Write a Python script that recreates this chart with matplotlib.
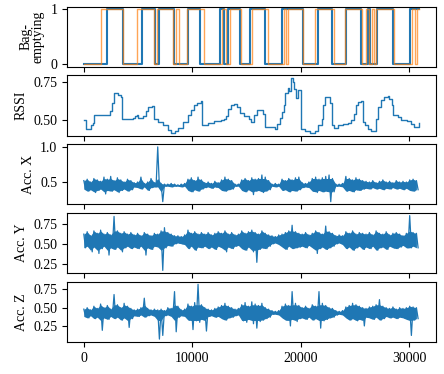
import numpy as np
import matplotlib
matplotlib.use('Agg')
import matplotlib.pyplot as plt

plt.rcParams['font.family'] = 'serif'
plt.rcParams['font.serif'] = ['Liberation Serif', 'DejaVu Serif']
plt.rcParams['font.size'] = 10

# bag-emptying label: switch times, level alternates 0/1 starting at 0
true_times = [0, 2100, 3600, 5380, 6550, 6970, 8300, 9620, 10750, 12570, 12950,
              13300, 14450, 15370, 16740, 18260, 20180, 21610, 22920, 24200,
              25570, 26180, 26450, 27030, 28520, 30070]
pred_times = [0, 1550, 3590, 4900, 6480, 6790, 8190, 8460, 8770, 9560, 11110,
              12790, 13150, 13450, 14500, 15530, 16960, 18470, 18650, 18870,
              20250, 21300, 23040, 24140, 25650, 26000, 26300, 26600, 26790,
              26950, 28650, 30290, 30590, 30740]
end_time = 30950

# RSSI (normalised)
rssi_t = [0, 213, 457, 700, 822, 913, 2283, 2435, 2587, 2740, 3044, 3196, 3409,
          3561, 4566, 4718, 4870, 5022, 5175, 5479, 5784, 5936, 6301, 6453,
          6849, 7306, 7762, 8067, 8371, 8675, 9132, 9589, 9893, 10198, 10441,
          10806, 10867, 11111, 11415, 12024, 12633, 12937, 13089, 13302, 13546,
          13850, 14155, 14368, 14763, 15220, 15450, 15707, 16011, 16316, 16529,
          16712, 17381, 17686, 17838, 18081, 18294, 18446, 18599, 18812, 18964,
          19116, 19268, 19360, 19573, 19755, 19908, 20060, 20425, 20882, 21339,
          21643, 21947, 22099, 22251, 22556, 22708, 22860, 23104, 23469, 23926,
          24382, 24687, 24930, 25143, 25296, 25539, 25752, 25965, 26209, 26513,
          26818, 26970, 27183, 27426, 27731, 28035, 28187, 28400, 28553, 28949,
          29253, 29862, 30166, 30470, 30775, 30927]
rssi_v = [0.498, 0.438, 0.44, 0.465, 0.478, 0.531, 0.53, 0.558, 0.608, 0.674,
          0.674, 0.664, 0.652, 0.509, 0.51, 0.525, 0.535, 0.515, 0.51, 0.525,
          0.558, 0.586, 0.59, 0.509, 0.487, 0.469, 0.432, 0.414, 0.425, 0.447,
          0.487, 0.531, 0.564, 0.601, 0.608, 0.624, 0.465, 0.468, 0.482, 0.493,
          0.50, 0.505, 0.527, 0.571, 0.597, 0.602, 0.586, 0.542, 0.527, 0.509,
          0.487, 0.535, 0.564, 0.567, 0.54, 0.453, 0.453, 0.44, 0.475, 0.51,
          0.553, 0.597, 0.674, 0.708, 0.69, 0.774, 0.75, 0.70, 0.646, 0.697,
          0.697, 0.443, 0.426, 0.416, 0.43, 0.465, 0.509, 0.597, 0.652, 0.652,
          0.61, 0.465, 0.447, 0.465, 0.47, 0.48, 0.498, 0.54, 0.597, 0.619,
          0.622, 0.487, 0.465, 0.44, 0.426, 0.43, 0.509, 0.586, 0.631, 0.652,
          0.658, 0.64, 0.597, 0.535, 0.52, 0.498, 0.49, 0.475, 0.453, 0.456,
          0.48]

# accelerometer: upper / lower swing of each 310-sample block
acc_step = 310
accx_hi = [0.52, 0.54, 0.50, 0.55, 0.53, 0.51, 0.57, 0.54, 0.58, 0.52, 0.56, 0.53, 0.50, 0.54, 0.52,
           0.49, 0.50, 0.57, 0.48, 0.50, 0.55, 0.49,
           1.00,
           0.48, 0.47, 0.47, 0.48, 0.47, 0.46, 0.47, 0.48,
           0.54, 0.56, 0.52, 0.57, 0.53,
           0.49, 0.50, 0.48, 0.51, 0.49,
           0.53, 0.57, 0.54, 0.52,
           0.47, 0.47,
           0.53, 0.55, 0.52, 0.56, 0.54, 0.55, 0.60, 0.57, 0.52,
           0.47, 0.48, 0.47,
           0.54, 0.52, 0.55, 0.53, 0.56, 0.57,
           0.49, 0.48, 0.50,
           0.55, 0.57, 0.54, 0.56, 0.58, 0.60, 0.55,
           0.47, 0.47, 0.48,
           0.58, 0.55, 0.53, 0.56, 0.54, 0.52,
           0.51, 0.50, 0.52, 0.49, 0.51, 0.53, 0.50, 0.51, 0.49, 0.52, 0.50, 0.51, 0.50,
           0.53, 0.54, 0.52]
accx_lo = [0.40, 0.37, 0.39, 0.35, 0.38, 0.40, 0.33, 0.38, 0.37, 0.39, 0.35, 0.38, 0.40, 0.37, 0.39,
           0.43, 0.42, 0.40, 0.43, 0.38, 0.42, 0.43,
           0.43,
           0.22, 0.44, 0.44, 0.43, 0.44, 0.44, 0.43, 0.44,
           0.38, 0.36, 0.39, 0.37, 0.40,
           0.42, 0.43, 0.41, 0.43, 0.42,
           0.38, 0.37, 0.39, 0.40,
           0.44, 0.44,
           0.38, 0.36, 0.39, 0.32, 0.37, 0.38, 0.35, 0.37, 0.39,
           0.44, 0.43, 0.44,
           0.38, 0.39, 0.36, 0.38, 0.37, 0.39,
           0.42, 0.43, 0.42,
           0.37, 0.35, 0.38, 0.36, 0.37, 0.22, 0.36,
           0.44, 0.44, 0.43,
           0.37, 0.38, 0.36, 0.39, 0.38, 0.40,
           0.41, 0.40, 0.42, 0.40, 0.41, 0.39, 0.41, 0.40, 0.42, 0.40, 0.41, 0.39, 0.41,
           0.38, 0.37, 0.39]
accy_hi = [0.62, 0.65, 0.60, 0.66, 0.63, 0.67, 0.62, 0.64, 0.61, 0.84, 0.66, 0.63, 0.65, 0.62, 0.64,
           0.61, 0.63, 0.60, 0.64, 0.62, 0.60, 0.63,
           0.62,
           0.66, 0.70, 0.64, 0.62, 0.60, 0.60, 0.59, 0.61,
           0.67, 0.63, 0.65, 0.62, 0.64,
           0.62, 0.64, 0.61, 0.63, 0.65,
           0.63, 0.66, 0.62, 0.64,
           0.61, 0.62,
           0.66, 0.63, 0.65, 0.67, 0.64, 0.62, 0.66, 0.63, 0.61,
           0.60, 0.59, 0.61,
           0.62, 0.64, 0.66, 0.73, 0.65, 0.63,
           0.62, 0.64, 0.61,
           0.63, 0.66, 0.64, 0.62, 0.72, 0.65, 0.63,
           0.60, 0.61, 0.60,
           0.65, 0.63, 0.66, 0.62, 0.64, 0.63,
           0.62, 0.64, 0.61, 0.66, 0.63, 0.62, 0.65, 0.61, 0.63, 0.64, 0.62, 0.60, 0.63,
           0.85, 0.64, 0.63]
accy_lo = [0.45, 0.47, 0.40, 0.46, 0.38, 0.44, 0.47, 0.36, 0.45, 0.43, 0.46, 0.40, 0.45, 0.47, 0.44,
           0.46, 0.44, 0.47, 0.36, 0.45, 0.43, 0.47,
           0.46,
           0.17, 0.45, 0.48, 0.47, 0.50, 0.51, 0.50, 0.49,
           0.44, 0.47, 0.42, 0.46, 0.45,
           0.47, 0.44, 0.46, 0.43, 0.47,
           0.45, 0.40, 0.46, 0.44,
           0.47, 0.48,
           0.44, 0.42, 0.46, 0.40, 0.27, 0.43, 0.45, 0.44, 0.47,
           0.50, 0.51, 0.49,
           0.46, 0.43, 0.47, 0.44, 0.45, 0.46,
           0.47, 0.45, 0.48,
           0.45, 0.38, 0.44, 0.46, 0.43, 0.45, 0.47,
           0.50, 0.51, 0.49,
           0.44, 0.46, 0.42, 0.45, 0.47, 0.43,
           0.46, 0.44, 0.47, 0.42, 0.45, 0.46, 0.43, 0.47, 0.45, 0.44, 0.46, 0.48, 0.45,
           0.45, 0.47, 0.45]
accz_hi = [0.48, 0.50, 0.47, 0.52, 0.49, 0.55, 0.50, 0.53, 0.48, 0.68, 0.54, 0.50, 0.56, 0.52, 0.49,
           0.47, 0.48, 0.50, 0.63, 0.49, 0.47, 0.48,
           0.47,
           0.48, 0.46, 0.50, 0.49, 0.72, 0.52, 0.47, 0.48,
           0.55, 0.52, 0.57, 0.82, 0.54,
           0.50, 0.48, 0.47, 0.49, 0.51,
           0.53, 0.56, 0.52, 0.50,
           0.48, 0.49,
           0.54, 0.57, 0.52, 0.58, 0.55, 0.53, 0.56, 0.50, 0.48,
           0.46, 0.45, 0.46,
           0.52, 0.55, 0.53, 0.72, 0.56, 0.53,
           0.50, 0.52, 0.49,
           0.54, 0.52, 0.72, 0.56, 0.53, 0.50, 0.49,
           0.46, 0.45, 0.46,
           0.51, 0.53, 0.56, 0.54, 0.52, 0.50,
           0.49, 0.51, 0.52, 0.54, 0.61, 0.52, 0.50, 0.49, 0.51, 0.48, 0.50, 0.49, 0.50,
           0.52, 0.51, 0.50]
accz_lo = [0.38, 0.36, 0.39, 0.35, 0.37, 0.19, 0.36, 0.34, 0.38, 0.35, 0.37, 0.33, 0.36, 0.23, 0.35,
           0.39, 0.38, 0.40, 0.37, 0.39, 0.40, 0.38,
           0.07,
           0.12, 0.39, 0.40, 0.38, 0.17, 0.37, 0.39, 0.38,
           0.33, 0.20, 0.32, 0.30, 0.34,
           0.18, 0.38, 0.39, 0.37, 0.38,
           0.35, 0.33, 0.36, 0.37,
           0.39, 0.40,
           0.32, 0.30, 0.34, 0.28, 0.22, 0.31, 0.33, 0.35, 0.37,
           0.41, 0.41, 0.40,
           0.36, 0.33, 0.25, 0.34, 0.31, 0.35,
           0.36, 0.34, 0.37,
           0.33, 0.35, 0.22, 0.32, 0.34, 0.36, 0.37,
           0.40, 0.41, 0.40,
           0.36, 0.33, 0.35, 0.32, 0.34, 0.25,
           0.37, 0.36, 0.34, 0.37, 0.33, 0.35, 0.38, 0.36, 0.37, 0.35, 0.37, 0.36, 0.34,
           0.12, 0.33, 0.35]


def steps(times, end):
    levels = [i % 2 for i in range(len(times))]
    return times + [end], levels + [levels[-1]]


def swing(hi, lo):
    vals = np.column_stack((hi, lo)).ravel()
    return np.arange(len(vals)) * (acc_step / 2), vals


fig, axes = plt.subplots(5, 1, sharex=True, figsize=(4.44, 3.74), dpi=100)
fig.subplots_adjust(left=0.151, right=0.982, top=0.982, bottom=0.086, hspace=0.14)

tx, ty = steps(true_times, end_time)
px, py = steps(pred_times, end_time)
axes[0].step(tx, ty, where='post', color='#1f77b4', lw=1.5)
axes[0].step(px, py, where='post', color='#ff7f0e', lw=1.0, alpha=0.7)
axes[0].set_ylabel('Bag-\nemptying', linespacing=0.9)

axes[1].plot(rssi_t, rssi_v, color='#1f77b4', lw=1.0, drawstyle='steps-post')
axes[1].set_ylabel('RSSI')
axes[1].set_yticks([0.5, 0.75])

for ax, hi, lo, name in [(axes[2], accx_hi, accx_lo, 'Acc. X'),
                         (axes[3], accy_hi, accy_lo, 'Acc. Y'),
                         (axes[4], accz_hi, accz_lo, 'Acc. Z')]:
    x, v = swing(hi, lo)
    ax.plot(x, v, color='#1f77b4', lw=0.9)
    xc = np.arange(len(hi)) * acc_step
    core_hi = np.minimum(hi, np.median(hi) + 0.03)
    core_lo = np.maximum(lo, np.median(lo) - 0.03)
    ax.fill_between(xc, core_lo, core_hi, color='#1f77b4', lw=0)
    ax.set_ylabel(name)

axes[2].set_yticks([0.5, 1.0])
axes[3].set_yticks([0.25, 0.5, 0.75])
axes[4].set_yticks([0.25, 0.5, 0.75])
axes[4].set_xticks([0, 10000, 20000, 30000])

plt.savefig('out.png', dpi=100)
